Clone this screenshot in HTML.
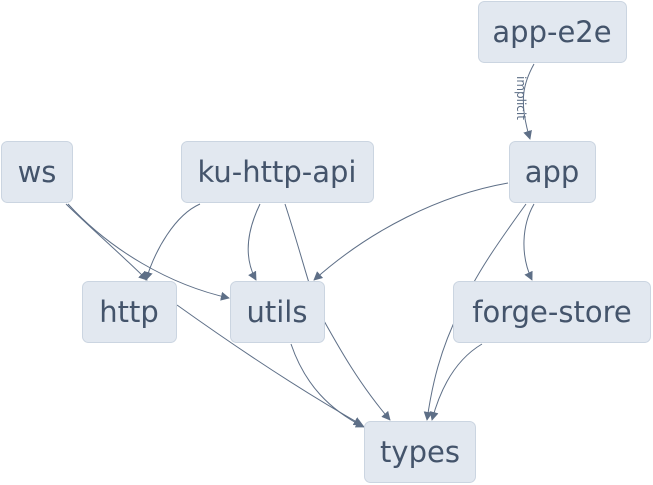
<!DOCTYPE html>
<html><head><meta charset="utf-8"><style>
html,body{margin:0;padding:0;background:#fff;width:653px;height:485px;overflow:hidden}
svg text{font-family:"DejaVu Sans","Liberation Sans",sans-serif;fill:#44546b}
</style></head><body>
<svg width="653" height="485" viewBox="0 0 653 485" xmlns="http://www.w3.org/2000/svg">
<defs><marker id="a" viewBox="0 0 10 10" refX="9" refY="5" markerWidth="9" markerHeight="9" markerUnits="userSpaceOnUse" orient="auto-start-reverse"><path d="M0,0 L10,5 L0,10 z" fill="#5e6f87"/></marker></defs>
<g fill="none" stroke="#5e6f87" stroke-width="1">
<path d="M534,64 C524,82 518,100 530,139" marker-end="url(#a)"/>
<path d="M66,204 C95,232 125,258 147,280" marker-end="url(#a)"/>
<path d="M68,204 C110,250 170,285 229,298" marker-end="url(#a)"/>
<path d="M200,204 C175,215 155,250 146,280" marker-end="url(#a)"/>
<path d="M260,204 C245,235 245,260 256,280" marker-end="url(#a)"/>
<path d="M285,204 C300,250 310,290 318,310 C340,350 360,385 390,420" marker-end="url(#a)"/>
<path d="M291,344 C305,385 330,410 364,427" marker-end="url(#a)"/>
<path d="M177,305 C240,350 300,390 362,425" marker-end="url(#a)"/>
<path d="M508,183 C440,195 370,230 314,280" marker-end="url(#a)"/>
<path d="M526,204 C500,240 475,275 460,310 C440,350 432,385 427,420" marker-end="url(#a)"/>
<path d="M534,204 C522,225 520,255 532,280" marker-end="url(#a)"/>
<path d="M482,344 C455,360 440,390 432,420" marker-end="url(#a)"/>
</g>
<text x="0" y="0" font-size="12" transform="translate(517,76) rotate(90)" style="fill:#5e6f87">implicit</text>
<g fill="#e2e8f0" stroke="#cbd5e1" stroke-width="1">
<rect x="478.5" y="1.5" width="148" height="61" rx="6"/>
<rect x="1.5" y="141.5" width="71" height="61" rx="6"/>
<rect x="181.5" y="141.5" width="192" height="61" rx="6"/>
<rect x="509.5" y="141.5" width="86" height="61" rx="6"/>
<rect x="82.5" y="281.5" width="94" height="61" rx="6"/>
<rect x="230.5" y="281.5" width="94" height="61" rx="6"/>
<rect x="453.5" y="281.5" width="197" height="61" rx="6"/>
<rect x="364.5" y="421.5" width="111" height="61" rx="6"/>
</g>
<g font-size="29" text-anchor="middle">
<text x="552" y="42">app-e2e</text>
<text x="37" y="182">ws</text>
<text x="277" y="182">ku-http-api</text>
<text x="552" y="182">app</text>
<text x="129" y="322">http</text>
<text x="277" y="322">utils</text>
<text x="552" y="322">forge-store</text>
<text x="420" y="462">types</text>
</g>
</svg>
</body></html>
